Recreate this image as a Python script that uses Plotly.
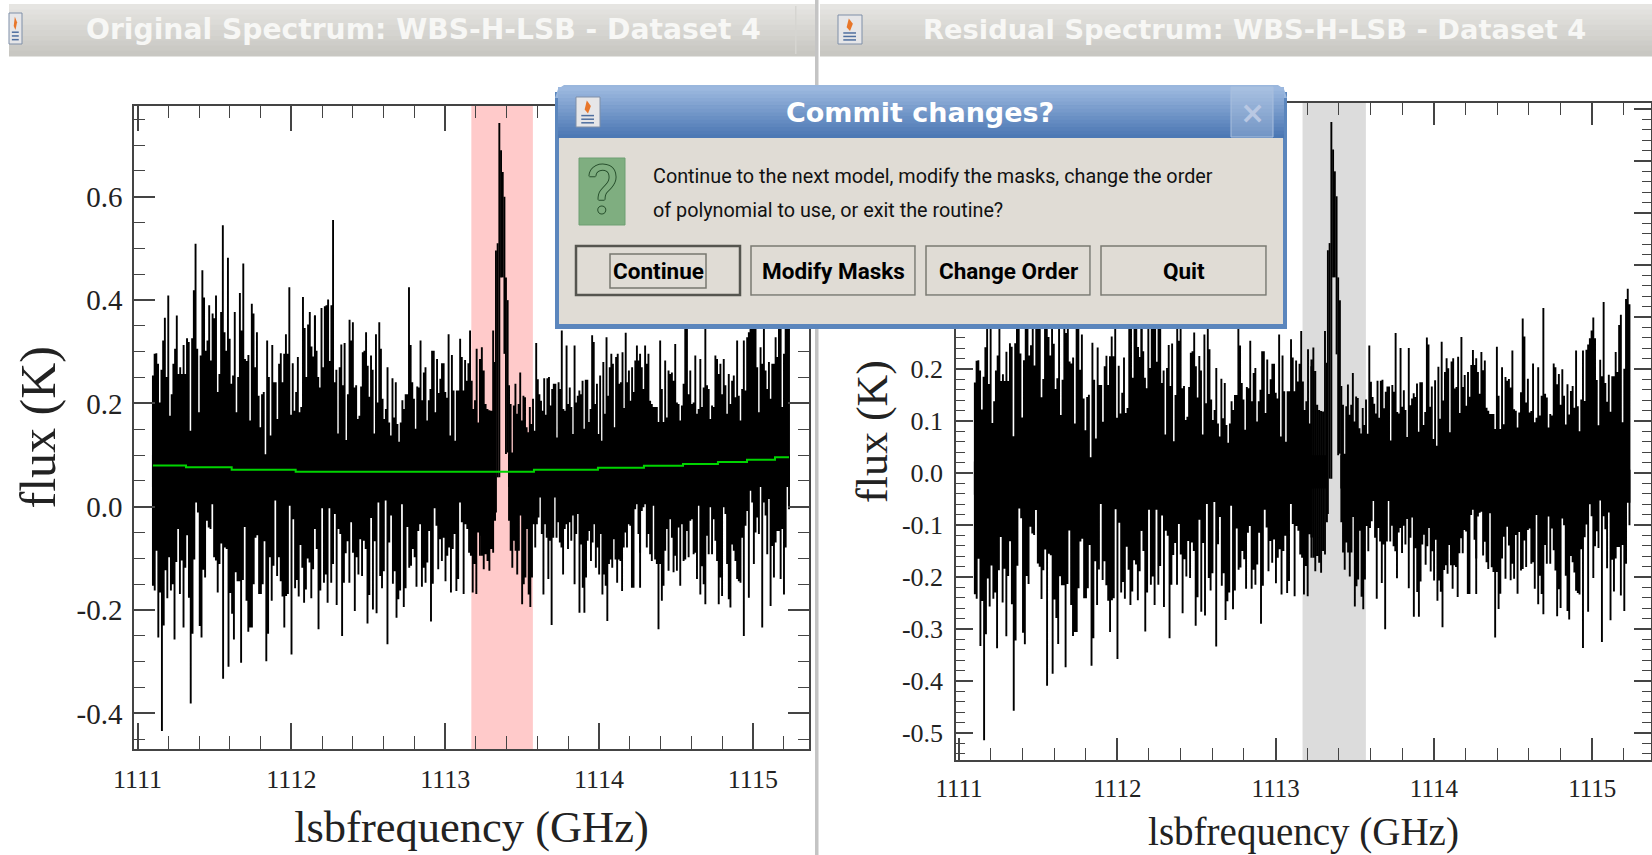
import numpy as np
import plotly.graph_objects as go

W, H = 1652, 855

# Channel extremes, in mK, strip by strip across the band.
strip_edges = [1111.10, 1112.153, 1113.226, 1113.324, 1113.415, 1114.267, 1115.235]

upper_1 = [254,296,297,277,202,265,322,366,251,409,176,218,277,306,370,257,270,257,313,257,326,319,147,326,419,509,306,183,293,458,405,302,322,390,283,374,365,409,222,257,377,545,338,302,482,325,238,254,377,183,251,414,341,471,286,282,294,167,393,374,270,338,215,154,218,222,92,322,251,138,313,241,241,170,277,297,241,296,334,296,425,178,278,186,222,290,183,193,406,346,251,353,377,310,291,370]
upper_2 = [370,302,251,231,385,270,388,390,401,282,390,555,241,265,142,270,314,235,317,129,218,362,322,357,231,235,170,176,233,299,302,338,273,213,293,265,142,334,202,357,306,209,170,189,270,163,138,249,173,241,160,126,163,206,189,218,218,425,313,241,209,151,233,231,322,206,260,270,167,206,228,302,302,183,286,220,248,278,278,222,211,334,138,294,225,128,225,225,325,290,225,284,244,278,341,244,189,206,306,163,273]
upper_3 = [286,309,264,199,189,187,186,341,280]
upper_4 = [235,199,105,196,238,180,199,260,167,215,212,154,144,193,160,209,147,317,247,218,205,186,249,178,249,251,196,228,238,238,134,241,228,341,189,186,312,199,231,193,141,312,202,215,225,218,244,151,246,246,164,189,332,319,199,238,141,254,128,280,180,328,215,270,296,277,154,290,296,238,241,299,191,337,241,264,205,270,222,283,312,283,296]
upper_5 = [225,270,228,312,277,296,205,199,193,193,193,164,322,228,164,283,173,264,257,260,244,315,202,199,167,196,238,380,345,218,264,199,202,293,180,189,286,193,231,400,235,228,170,196,193,293,286,257,277,218,286,235,180,257,199,244,254,212,322,215,167,228,322,225,328,338,350,365,390,350,270,183,309,277,420,264,228,280,209,277,277,328,290,380,400,193,296,430,450,420]
lower_1 = [-153,-162,-85,-253,-166,-434,-230,-123,-177,-98,-162,-150,-257,-107,-43,-169,-104,-234,-118,-55,-176,-381,-246,-102,8,-11,-231,-253,-122,-137,-27,-40,-43,5,-98,-104,-166,-111,-71,-333,-79,-82,-310,-167,-207,-257,-127,-144,-144,-302,-142,-39,-182,-242,-234,-234,-150,-60,-55,-169,-169,-150,-67,-299,-246,-98,-182,-114,12,-134,-98,-144,-174,-234,-173,-169,2,-286,-24,-158,-142,-174,-74,-118,-186,-160,-100,-108,-177,-121,-43]
lower_2 = [-43,-82,-237,-162,-3,-147,-131,-186,-3,-147,-111,-14,-190,-43,-53,-250,-147,-90,-67,-147,-30,-89,-202,-98,-131,-63,-134,-66,-82,-226,-171,-22,-199,-67,-206,8,-134,-158,-125,12,-266,-69,-17,-149,-125,-215,-179,-162,5,-194,-158,-39,-118,-114,-82,-98,-155,-47,-34,-155,-118,-147,-108,-47,-222,-149,-3,-37,-121,-63,-105,-60,-144,-95,-79,-166,-82,-53,-163,-140,8,-30,-169,-34,-43,-89,-95,-166,-111,-169,-50,-95]
lower_3 = [-56,-95,-121,-92,-105,-124,-82,-89,-27]
lower_4 = [-27,-85,-118,-66,-85,-131,-85,-17,-189,-150,-137,-43,-170,-194,-137,-34,-79,-34,-21,18,-53,-170,-34,-60,-140,-66,-229,-60,18,-60,-30,-69,-79,-131,-43,-34,-82,-30,-66,-17,-150,-53,-14,-205,-73,-157,-205,-137,-66,-47,-105,-69,-34,-118,-79,-131,-53,-170,-131,-153,-221,-111,-102,-118,-63,-102,-147,-102,-105,-163,-79,-50,-79,-34,-37,-157,-157,-5,5,-53,-89]
lower_5 = [-157,-8,-1,5,-79,-53,-92,-105,2,-102,-111,-237,-111,-182,-153,-85,-43,-124,-24,-60,-127,-95,-124,-40,-153,-34,-105,-102,-47,-98,-27,-24,-92,-89,-140,2,-170,-115,-150,-189,-56,-92,-1,-92,-24,-66,-105,-189,-137,-173,-1,-14,-111,-179,-195,-73,-85,-105,-140,-144,-147,-60,-250,-37,-8,-176,31,8,-111,-50,-21,-53,60,-234,8,-17,-92,15,-192,-76,-137,-69,-47,-47,-140,-43,-170,-79,80,-5]

# The bright line: each channel spans from its low to its high value.
line_freq = [1113.330,1113.341,1113.352,1113.363,1113.374,1113.385,1113.395,1113.406]
line_high = [0.496,0.510,0.743,0.690,0.648,0.600,0.444,0.400]
line_low = [-0.011,0.057,0.057,0.444,0.444,0.296,0.102,0.105]

# Fitted polynomial (green steps)
base_freq = [1111.10,1111.315,1111.612,1112.028,1113.577,1113.993,1114.292,1114.546,1114.773,1114.962,1115.144,1115.235]
base_flux = [0.0800,0.0763,0.0717,0.0679,0.0717,0.0756,0.0795,0.0827,0.0866,0.0911,0.0956,0.0956]

mask_range = [1113.17, 1113.57]
x_ticks = [1111, 1112, 1113, 1114, 1115]
x_labels = ["1111", "1112", "1113", "1114", "1115"]
left_y_ticks = [-0.4, -0.2, 0.0, 0.2, 0.4, 0.6]
left_y_labels = ["-0.4", "-0.2", "0.0", "0.2", "0.4", "0.6"]
right_y_ticks = [-0.5, -0.4, -0.3, -0.2, -0.1, 0.0, 0.1, 0.2, 0.3, 0.4, 0.5, 0.6, 0.7]
# The labels from 0.3 upward sit behind the dialog in the reference.
right_y_labels = ["-0.5", "-0.4", "-0.3", "-0.2", "-0.1", "0.0", "0.1", "0.2", "", "", "", "", ""]

CORE_TOP = 0.04    # upper columns start here
CORE_BOTTOM = 0.10 # lower columns start here, so the two halves overlap


def baseline_at(f):
    i = np.searchsorted(base_freq, f, side="right") - 1
    return base_flux[min(max(i, 0), len(base_flux) - 1)]


def columns(subtract):
    # One continuous path per strip, so neighbouring columns merge into solid black.
    xs, ys = [], []
    sets = [(upper_1, lower_1), (upper_2, lower_2), (upper_3, lower_3), (upper_4, lower_4), (upper_5, lower_5)]
    edges = [(strip_edges[0], strip_edges[1]), (strip_edges[1], strip_edges[2]), (strip_edges[2], strip_edges[3]),
             (strip_edges[4], strip_edges[5]), (strip_edges[5], strip_edges[6])]
    for (up, lo), (a, b) in zip(sets, edges):
        for arr, start in ((up, CORE_TOP), (lo, CORE_BOTTOM)):
            for f, v in zip(np.linspace(a, b, len(arr)), arr):
                off = baseline_at(f) if subtract else 0.0
                xs += [float(f), float(f), float(f)]
                ys += [start - off, v / 1000.0 - off, start - off]
            xs.append(None)
            ys.append(None)
    for f, hi, lo in zip(line_freq, line_high, line_low):
        off = baseline_at(f) if subtract else 0.0
        xs += [f, f, None]
        ys += [lo - off, hi - off, None]
    return xs, ys


fig = go.Figure()
lx, ly = columns(False)
rx, ry = columns(True)
fig.add_trace(go.Scatter(x=lx, y=ly, mode="lines", line=dict(color="#000000", width=1.9, simplify=False),
                         connectgaps=False, hoverinfo="skip", showlegend=False, xaxis="x", yaxis="y"))
fig.add_trace(go.Scatter(x=base_freq, y=base_flux, mode="lines", line=dict(color="#00d400", width=2, shape="hv"),
                         hoverinfo="skip", showlegend=False, xaxis="x", yaxis="y"))
fig.add_trace(go.Scatter(x=rx, y=ry, mode="lines", line=dict(color="#000000", width=1.9, simplify=False),
                         connectgaps=False, hoverinfo="skip", showlegend=False, xaxis="x2", yaxis="y2"))


def px(x):
    return x / W


def py(y):
    return 1 - y / H


shapes = []
annos = []


def rect(x0, y0, x1, y1, fill=None, line=None, lw=0, layer="above"):
    shapes.append(dict(type="rect", xref="paper", yref="paper", x0=px(x0), x1=px(x1), y0=py(y0), y1=py(y1),
                       fillcolor=fill or "rgba(0,0,0,0)", layer=layer,
                       line=dict(color=line or "rgba(0,0,0,0)", width=lw)))


def vgrad(x0, y0, x1, y1, top, bottom, n=10, layer="above"):
    t = np.array([int(top[i:i + 2], 16) for i in (1, 3, 5)], float)
    b = np.array([int(bottom[i:i + 2], 16) for i in (1, 3, 5)], float)
    h = (y1 - y0) / n
    for i in range(n):
        c = t + (b - t) * i / (n - 1)
        rect(x0, y0 + i * h, x1, y0 + (i + 1) * h + 0.5, fill="rgb(%d,%d,%d)" % tuple(c), layer=layer)


def path(points, fill=None, line=None, lw=0, close=True):
    d = "M " + " L ".join("%.5f %.5f" % (px(a), py(b)) for a, b in points) + (" Z" if close else "")
    shapes.append(dict(type="path", xref="paper", yref="paper", path=d, layer="above",
                       fillcolor=fill or "rgba(0,0,0,0)", line=dict(color=line or "rgba(0,0,0,0)", width=lw)))


def text(x, y, s, size, color, family, xanchor="center", bold=False, shadow=None):
    font = dict(size=size, color=color, family=family)
    if shadow:
        font["shadow"] = shadow
    annos.append(dict(xref="paper", yref="paper", x=px(x), y=py(y), text=("<b>%s</b>" % s) if bold else s,
                      showarrow=False, xanchor=xanchor, yanchor="middle", font=font))


def java_icon(x0, y0, x1, y1):
    rect(x0, y0, x1, y1, fill="#e6e6e8", line="#7f8fa8", lw=1)
    w, h = x1 - x0, y1 - y0
    path([(x0 + .45 * w, y0 + .12 * h), (x0 + .62 * w, y0 + .3 * h), (x0 + .5 * w, y0 + .55 * h), (x0 + .36 * w, y0 + .42 * h)], fill="#e8762a")
    for f in (.62, .74, .86):
        path([(x0 + .22 * w, y0 + f * h), (x0 + .75 * w, y0 + f * h)], line="#4f6f9f", lw=1.5, close=False)


# Masked ranges
for xr, yr, col in (("x", "y domain", "#ffcaca"), ("x2", "y2 domain", "#dcdcdc")):
    shapes.append(dict(type="rect", xref=xr, yref=yr, x0=mask_range[0], x1=mask_range[1],
                       y0=0, y1=1, fillcolor=col, line=dict(width=0), layer="below"))

# Window furniture
rect(815, 0, 818.5, H, fill="#c4c4c4")
vgrad(9, 4, 815, 56, "#e6e5e2", "#c8c7c2")
vgrad(820, 4, W, 56, "#e6e5e2", "#c8c7c2")
rect(795, 6, 796.5, 54, fill="#d6d5d1")
java_icon(9, 13, 22, 44)
java_icon(838, 15, 862, 44)
text(423.5, 29, "Original Spectrum: WBS-H-LSB - Dataset 4", 28.2, "#f7f7f5", "DejaVu Sans", bold=True)
text(1254, 29, "Residual Spectrum: WBS-H-LSB - Dataset 4", 27.3, "#f7f7f5", "DejaVu Sans", bold=True)

# Dialog
rect(555, 92, 1287, 329, fill="#5b86bd")
path([(555, 98), (558, 89), (564, 85), (1278, 85), (1284, 89), (1287, 98)], fill="#9ab7dd")
vgrad(558, 87, 1284, 138, "#9cb8df", "#4c78b4", n=14)
rect(1231, 87, 1273, 137, fill="rgba(190,205,230,0.35)", line="#a9bfde", lw=1)
rect(559, 138, 1283, 324, fill="#e0dcd5")
java_icon(576, 97, 600, 127)
text(920.5, 112, "Commit changes?", 27, "#ffffff", "DejaVu Sans", bold=True)
text(1252, 112, "×", 30, "#b9c8e3", "DejaVu Sans", bold=True)

rect(579, 158, 625, 225, fill="#7fae80", line="#6f9f72", lw=1)
OUTLINE = "1px 0 0 #274f2c, -1px 0 0 #274f2c, 0 1px 0 #274f2c, 0 -1px 0 #274f2c"
text(602, 191, "?", 66, "#7fae80", "Roboto", shadow=OUTLINE)

text(651, 176, "Continue to the next model, modify the masks, change the order", 19.8, "#111111", "Roboto", xanchor="left")
text(651, 211, "of polynomial to use, or exit the routine?", 19.8, "#111111", "Roboto", xanchor="left")

buttons = [("Continue", 576, 740), ("Modify Masks", 751, 915), ("Change Order", 926, 1090), ("Quit", 1101, 1266)]
for label, a, b in buttons:
    rect(a + 1, 247, b + 1, 296, fill="#ffffff")
    rect(a, 246, b, 295, fill="#e0dcd5", line="#55554f" if label == "Continue" else "#7a7a72", lw=2.5 if label == "Continue" else 1.5)
    text((a + b) / 2, 271, label, 22.5, "#000000", "Roboto", bold=True)
rect(610, 254, 706, 288, line="#77776f", lw=1.5)

AX = "#444444"
FONT = "Liberation Serif"


def xaxis(domain, rng, size, tsize, major, minor, anchor, lab_off, standoff):
    return dict(domain=domain, range=rng, anchor=anchor, showgrid=False, zeroline=False, showline=True, linecolor=AX, linewidth=1.5,
                automargin=False, mirror="allticks", ticks="inside", ticklen=major, tickwidth=1.5, tickcolor=AX,
                tickmode="array", tickvals=x_ticks, ticktext=x_labels, tickfont=dict(family=FONT, size=tsize, color="#222222"),
                ticklabelstandoff=lab_off,
                minor=dict(ticks="inside", ticklen=minor, tickwidth=1.2, tickcolor=AX, tick0=1111, dtick=0.2, showgrid=False),
                title=dict(text="lsbfrequency (GHz)", font=dict(family=FONT, size=size, color="#222222"), standoff=standoff))


def yaxis(domain, rng, tv, tt, size, tsize, major, minor, mdt, anchor, lab_off, standoff):
    return dict(domain=domain, range=rng, anchor=anchor, showgrid=False, zeroline=False, showline=True, linecolor=AX, linewidth=1.5,
                automargin=False, mirror="allticks", ticks="inside", ticklen=major, tickwidth=1.5, tickcolor=AX,
                tickmode="array", tickvals=tv, ticktext=tt, tickfont=dict(family=FONT, size=tsize, color="#222222"),
                ticklabelstandoff=lab_off,
                minor=dict(ticks="inside", ticklen=minor, tickwidth=1.2, tickcolor=AX, tick0=0, dtick=mdt, showgrid=False),
                title=dict(text="flux (K)", font=dict(family=FONT, size=size, color="#222222"), standoff=standoff))


fig.update_layout(
    width=W, height=H, autosize=False, margin=dict(l=0, r=0, t=0, b=0),
    paper_bgcolor="#ffffff", plot_bgcolor="#ffffff", showlegend=False,
    xaxis=xaxis([134 / W, 809 / W], [1110.977, 1115.365], 44.5, 26, 26, 13, "y", 6, 18),
    yaxis=yaxis([(H - 749) / H, (H - 105.6) / H], [-0.469, 0.7766], left_y_ticks, left_y_labels, 50, 29, 21, 11, 0.05, "x", 4, 5),
    xaxis2=xaxis([956 / W, 1651 / W], [1110.981, 1115.371], 39, 25, 22, 12, "y2", 5, 17),
    yaxis2=yaxis([(H - 760) / H, (H - 103) / H], [-0.552, 0.7115], right_y_ticks, right_y_labels, 44, 26, 17, 9, 0.02, "x2", 6, 0),
    shapes=shapes, annotations=annos,
)

fig.write_html("out.html", config={"displayModeBar": False}, post_script="document.body.style.margin='0';")
